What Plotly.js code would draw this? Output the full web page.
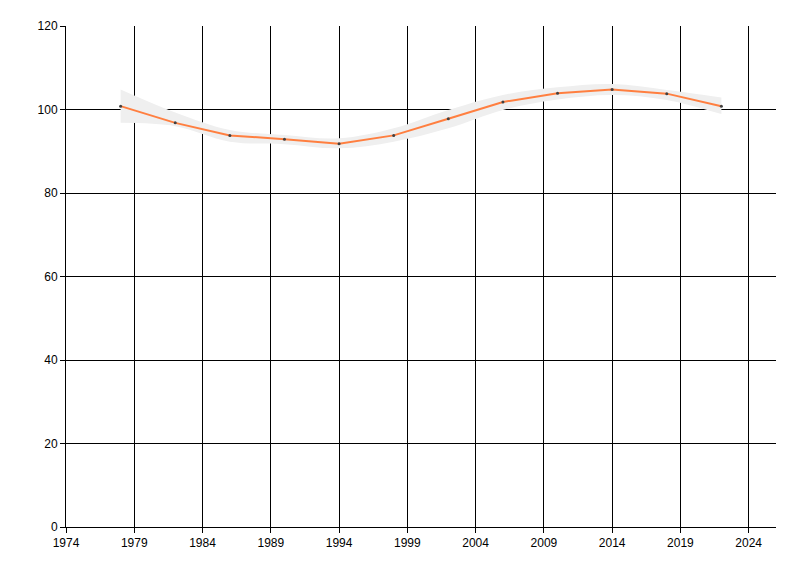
<!DOCTYPE html>
<html>
<head>
<meta charset="utf-8">
<script src="https://cdn.plot.ly/plotly-3.0.1.min.js"></script>
<style>html,body{margin:0;padding:0;background:#fff;}#chart{width:800px;height:576px;}</style>
</head>
<body>
<div id="chart"></div>
<script>
const years = [1978, 1982, 1986, 1990, 1994, 1998, 2002, 2006, 2010, 2014, 2018, 2022];
const values = [100.8, 96.8, 93.8, 92.9, 91.8, 93.8, 97.8, 101.8, 103.9, 104.8, 103.8, 100.8];
const upper = [104.8, 99.3, 95.1, 93.9, 93.1, 95.5, 99.9, 103.5, 105.3, 106.1, 104.7, 102.9];
const lower = [96.8, 96.0, 92.3, 91.7, 90.7, 92.3, 95.5, 99.9, 102.4, 103.5, 102.3, 98.9];
const xTicks = [1974, 1979, 1984, 1989, 1994, 1999, 2004, 2009, 2014, 2019, 2024];
const yTicks = [0, 20, 40, 60, 80, 100, 120];

const traces = [
  {x: years, y: lower, mode: 'lines', line: {width: 0, shape: 'spline', smoothing: 1}, hoverinfo: 'skip', showlegend: false},
  {x: years, y: upper, mode: 'lines', fill: 'tonexty', fillcolor: '#efefef', line: {width: 0, shape: 'spline', smoothing: 1}, hoverinfo: 'skip', showlegend: false},
  {x: years, y: values, mode: 'lines+markers', line: {color: '#ff7f40', width: 2}, marker: {color: '#404040', size: 3}, showlegend: false}
];

const axisCommon = {
  showgrid: true, gridcolor: '#000', gridwidth: 1,
  showline: true, linecolor: '#000', linewidth: 1,
  ticks: 'outside', ticklen: 5, tickcolor: '#000', tickwidth: 1,
  zeroline: false,
  tickfont: {family: '"Liberation Sans Narrow", "Liberation Sans", Arial, sans-serif', size: 12, color: '#000'}
};

const layout = {
  width: 800, height: 576,
  margin: {l: 66, r: 24, t: 26, b: 49},
  paper_bgcolor: '#fff', plot_bgcolor: '#fff',
  xaxis: Object.assign({}, axisCommon, {range: [1974, 2026], tickvals: xTicks, ticktext: xTicks.map(String)}),
  yaxis: Object.assign({}, axisCommon, {range: [0, 120], tickvals: yTicks, ticktext: yTicks.map(String)}),
  showlegend: false
};

Plotly.newPlot('chart', traces, layout, {displayModeBar: false, staticPlot: true});
</script>
</body>
</html>
